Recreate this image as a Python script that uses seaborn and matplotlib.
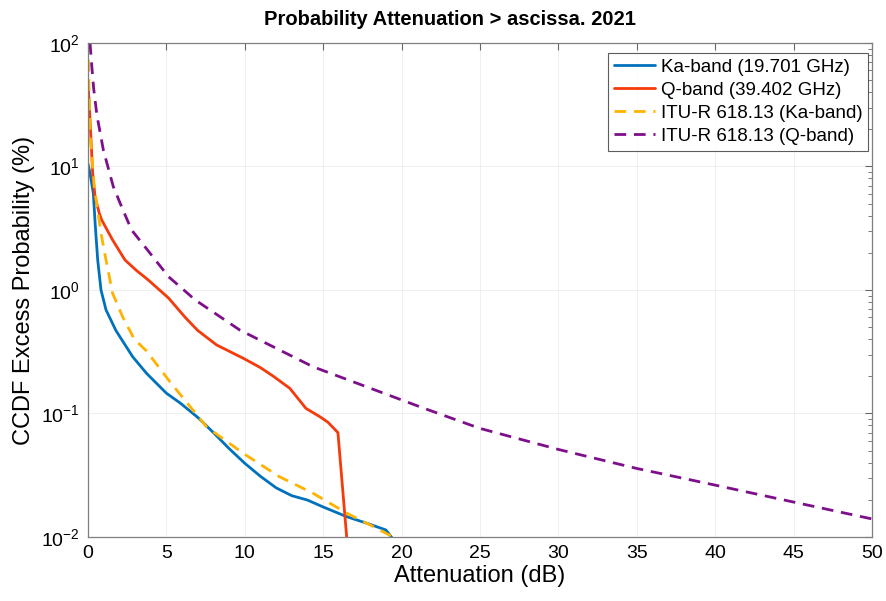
import numpy as np
import matplotlib
matplotlib.use("Agg")
import matplotlib.pyplot as plt
import seaborn as sns

# --- values ---
ka_x = [0.0, 0.13, 0.34, 0.47, 0.62, 0.83, 1.15, 1.78, 2.85, 3.74, 5.0, 5.9, 7.0, 8.0, 9.0,
        10.0, 11.0, 12.0, 13.0, 14.0, 15.0, 16.5, 17.8, 19.0, 19.4]
ka_y = [10.5, 8.8, 6.07, 3.26, 1.75, 1.0, 0.69, 0.47, 0.288, 0.211, 0.146, 0.121, 0.093,
        0.070, 0.052, 0.0395, 0.031, 0.025, 0.0216, 0.0199, 0.0175, 0.0146, 0.0129,
        0.0114, 0.0098]

q_x = [0.0, 0.13, 0.3, 0.45, 0.72, 0.87, 1.57, 2.36, 3.06, 3.86, 5.14, 6.2, 7.0, 8.2, 9.9,
       11.0, 11.8, 12.87, 13.9, 14.8, 15.3, 15.94, 16.6]
q_y = [50, 23.8, 8.8, 5.7, 4.18, 3.7, 2.54, 1.75, 1.45, 1.2, 0.86, 0.6, 0.47, 0.359, 0.28,
       0.235, 0.201, 0.16, 0.110, 0.094, 0.085, 0.07, 0.007]

itu_ka_x = [0.0, 0.04, 0.15, 0.4, 0.83, 1.15, 1.57, 2.2, 2.95, 3.74, 5.22, 7.56, 9.9,
            12.2, 14.35, 16.5, 18.0, 19.45, 19.7]
itu_ka_y = [105, 59, 17, 6.9, 2.88, 1.75, 0.94, 0.61, 0.40, 0.32, 0.181, 0.078, 0.0476,
            0.0308, 0.0226, 0.0156, 0.0125, 0.0100, 0.0095]

itu_q_x = [0.13, 0.25, 0.36, 0.57, 0.98, 1.61, 2.14, 2.78, 3.63, 5.14, 6.84, 9.68, 14.35,
           21.15, 24.97, 29.96, 34.95, 39.94, 44.9, 50.0]
itu_q_y = [100, 63, 43, 26, 13.6, 6.9, 4.73, 3.06, 2.24, 1.28, 0.83, 0.474, 0.239,
           0.1135, 0.0759, 0.0513, 0.036, 0.0264, 0.0193, 0.0140]

sns.set_theme(style="white")
plt.rcParams["font.family"] = ["Liberation Sans", "DejaVu Sans"]
plt.rcParams["axes.unicode_minus"] = False
plt.rcParams["text.color"] = "black"
plt.rcParams["axes.labelcolor"] = "black"

fig = plt.figure(figsize=(8.86, 6.01), dpi=100)
ax = fig.add_axes([0.0993, 0.1065, 0.8849, 0.822])

dash = (0, (4.2, 2.8))
sns.lineplot(x=ka_x, y=ka_y, ax=ax, color="#0072BD", lw=2, label="Ka-band (19.701 GHz)",
             sort=False, estimator=None)
sns.lineplot(x=q_x, y=q_y, ax=ax, color="#F53A0B", lw=2, label="Q-band (39.402 GHz)",
             sort=False, estimator=None)
sns.lineplot(x=itu_ka_x, y=itu_ka_y, ax=ax, color="#FFB300", lw=2, linestyle=dash,
             label="ITU-R 618.13 (Ka-band)", sort=False, estimator=None)
sns.lineplot(x=itu_q_x, y=itu_q_y, ax=ax, color="#7E0F8A", lw=2, linestyle=dash,
             label="ITU-R 618.13 (Q-band)", sort=False, estimator=None)

ax.set_yscale("log")
ax.set_xlim(0, 50)
ax.set_ylim(1e-2, 1e2)
ax.set_xticks(np.arange(0, 51, 5))
ax.set_yticks([1e-2, 1e-1, 1e0, 1e1, 1e2])
ax.grid(True, which="major", color="#ececec", lw=0.6)

ax.tick_params(axis="both", which="both", direction="in", top=True, right=True,
               labelsize=14, colors="#666666", labelcolor="black")
ax.tick_params(axis="both", which="major", length=5, width=0.8, pad=6)
ax.tick_params(axis="y", which="minor", length=3, width=0.6)
ax.tick_params(axis="x", which="minor", bottom=False, top=False)
for s in ax.spines.values():
    s.set_color("#7f7f7f")
    s.set_linewidth(0.9)

ax.set_xlabel("Attenuation (dB)", fontsize=17, labelpad=2)
ax.set_ylabel("CCDF Excess Probability (%)", fontsize=17, labelpad=4)
ax.set_title("Probability Attenuation > ascissa. 2021", fontsize=14.5, fontweight="bold",
             x=0.462, pad=13)

leg = ax.legend(loc="upper right", bbox_to_anchor=(0.995, 0.98), borderaxespad=0,
                fontsize=13.5, frameon=True, fancybox=False, handlelength=2.2,
                handletextpad=0.3, borderpad=0.3, labelspacing=0.32)
leg.get_frame().set_edgecolor("#333333")
leg.get_frame().set_linewidth(0.8)

fig.savefig("out.png", dpi=100)
